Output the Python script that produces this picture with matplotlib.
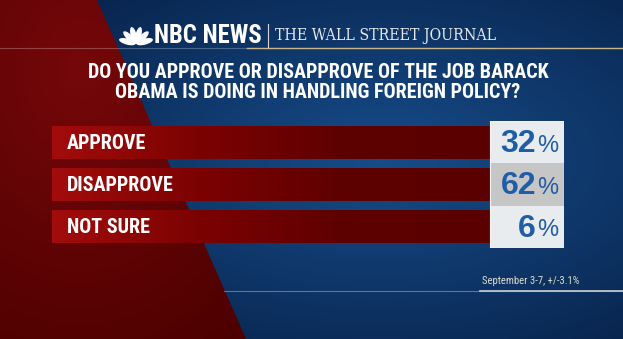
import numpy as np
import matplotlib.pyplot as plt
import matplotlib.transforms as mtransforms
from matplotlib.colors import LinearSegmentedColormap
from matplotlib.patches import Polygon, Ellipse

# Poll data
categories = ["APPROVE", "DISAPPROVE", "NOT SURE"]
values = [32, 62, 6]
question = ["DO YOU APPROVE OR DISAPPROVE OF THE JOB BARACK",
            "OBAMA IS DOING IN HANDLING FOREIGN POLICY?"]
footnote = "September 3-7, +/-3.1%"

narrow = ["Roboto Condensed", "DejaVu Sans"]
sans = ["Liberation Sans", "DejaVu Sans"]
W, H = 623, 339

fig = plt.figure(figsize=(W / 100, H / 100), dpi=100)

# background in pixel coordinates
bg = fig.add_axes([0, 0, 1, 1])
bg.set_xlim(0, W)
bg.set_ylim(H, 0)
bg.axis("off")

yy, xx = np.mgrid[0:H, 0:W]
r = np.sqrt(((xx - 380) / 430.0) ** 2 + ((yy - 160) / 230.0) ** 2)
glow = np.clip(1 - r, 0, 1)
c_dark = np.array([0.03, 0.14, 0.30])
c_light = np.array([0.09, 0.30, 0.54])
img = c_dark + (c_light - c_dark) * glow[..., None]
bg.imshow(img, extent=(0, W, H, 0), zorder=0, aspect="auto")

# red wedge on the left
red_poly = Polygon([(0, 0), (97, 0), (246, H), (0, H)], closed=True,
                   facecolor="none", edgecolor="none")
bg.add_patch(red_poly)
rr = np.sqrt(((xx - 80) / 260.0) ** 2 + ((yy - 70) / 330.0) ** 2)
rglow = np.clip(1 - rr, 0, 1)
r_dark = np.array([0.30, 0.0, 0.0])
r_light = np.array([0.46, 0.03, 0.04])
rimg = r_dark + (r_light - r_dark) * rglow[..., None]
im = bg.imshow(rimg, extent=(0, W, H, 0), zorder=1, aspect="auto")
im.set_clip_path(red_poly)

# header rules
bg.plot([0, W], [48, 48], color="white", alpha=0.25, lw=0.8, zorder=2)
bg.plot([247, W], [48, 48], color="#c8b68a", lw=1.0, zorder=2)
bg.plot([224, W], [291, 291], color="#8fa3bb", alpha=0.6, lw=0.8, zorder=2)
bg.plot([480, W], [291, 291], color="#c9cdd2", lw=1.2, zorder=2)

# NBC peacock
for k in range(6):
    th = np.deg2rad(165 - k * 30)
    bg.add_patch(Ellipse((136 + 9 * np.cos(th), 44 - 9 * np.sin(th)), 17, 6,
                         angle=-np.rad2deg(th), facecolor="white",
                         edgecolor="none", zorder=3))

bg.text(154, 36, "NBC NEWS", color="white", fontsize=17.8, fontweight="bold",
        family=narrow, va="center", ha="left", zorder=3)
bg.plot([268, 268], [24, 47], color="#d8d8d8", lw=0.8, zorder=3)
bg.text(275, 36, "THE WALL STREET JOURNAL", color="#e8e8e8", fontsize=11.3,
        family=["DejaVu Serif"], fontstretch="condensed",
        va="center", ha="left", zorder=3)

for i, line in enumerate(question):
    bg.text(318, 72 + i * 21, line, color="white", fontsize=14.5, fontweight="bold",
            family=narrow, ha="center", va="center", zorder=3)

bg.text(579, 281, footnote, color="#dcdccc", fontsize=7.7, family=narrow,
        ha="right", va="center", zorder=3)

# bars
ax = fig.add_axes([52 / W, 1 - 248 / H, 512 / W, 127 / H])
ax.set_xlim(0, 1)
ax.set_ylim(len(categories) - 0.5, -0.5)
ax.axis("off")
ax.patch.set_alpha(0)

split = 438 / 512
y = np.arange(len(categories))
bars = ax.barh(y, split, height=0.78, color="none", zorder=2)
bar_cmap = LinearSegmentedColormap.from_list(
    "bar", ["#a30c0c", "#7c0202", "#5e0000", "#5a0000"])
grad = np.linspace(0, 1, 256)[None, :]
for b in bars:
    x0, y0 = b.get_x(), b.get_y()
    gi = ax.imshow(grad, cmap=bar_cmap, aspect="auto", zorder=2,
                   extent=(x0, x0 + b.get_width(), y0 + b.get_height(), y0))
    gi.set_clip_path(b)

box_colors = ["#e9ecef", "#c6c6c6", "#e9ecef"]
ax.barh(y, 1 - split, left=split, height=1.0, color=box_colors, zorder=3)
ax.plot([split, 1, 1, split, split], [-0.5, -0.5, 2.5, 2.5, -0.5],
        color="#f4f4f4", lw=0.8, zorder=4)
ax.set_xlim(0, 1)

tr = mtransforms.blended_transform_factory(ax.transAxes, ax.transData)
for i, (cat, v) in enumerate(zip(categories, values)):
    ax.text(15 / 512, i + 0.02, cat, transform=tr, color="white", fontsize=14.5,
            fontweight="bold", family=narrow, ha="left", va="center", zorder=5)
    ax.text(484 / 512, i + 0.04, str(v), transform=tr, color="#1f5ea6",
            fontsize=23, fontweight="bold", family=sans,
            ha="right", va="center", zorder=5)
    ax.text(485 / 512, i + 0.08, "%", transform=tr, color="#1f5ea6",
            fontsize=17, family=sans, ha="left", va="center", zorder=5)

fig.savefig("out.png", dpi=100)
